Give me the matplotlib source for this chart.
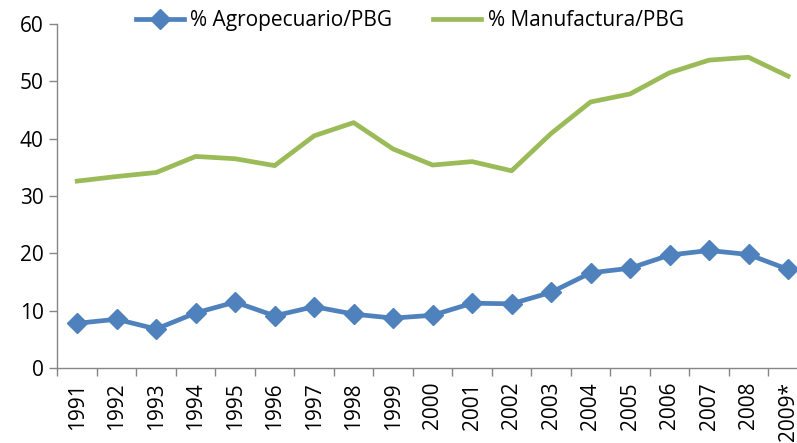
import matplotlib
matplotlib.use('Agg')
import matplotlib.pyplot as plt
import numpy as np

anios = ['1991', '1992', '1993', '1994', '1995', '1996', '1997', '1998', '1999', '2000',
         '2001', '2002', '2003', '2004', '2005', '2006', '2007', '2008', '2009*']
agro = [7.8, 8.5, 6.8, 9.6, 11.5, 9.1, 10.7, 9.4, 8.7, 9.2,
        11.3, 11.2, 13.2, 16.6, 17.4, 19.7, 20.5, 19.8, 17.2]
manuf = [32.6, 33.4, 34.1, 36.9, 36.5, 35.3, 40.5, 42.8, 38.2, 35.4,
         36.0, 34.4, 40.9, 46.4, 47.8, 51.5, 53.7, 54.2, 50.9]

plt.rcParams['font.family'] = ['Open Sans', 'DejaVu Sans']

fig = plt.figure(figsize=(7.97, 4.43), dpi=100)
ax = fig.add_axes([0.0721, 0.1693, 0.9414, 0.7765])

x = np.arange(len(anios))
ax.plot(x, agro, color='#4F81BD', lw=3.4, marker='D', markersize=10.5,
        label='% Agropecuario/PBG', solid_joinstyle='round')
ax.plot(x, manuf, color='#9BBB59', lw=3.4, label='% Manufactura/PBG',
        solid_joinstyle='round')

ax.set_xlim(-0.5, len(anios) - 0.5)
ax.set_ylim(0, 60)
ax.set_yticks(range(0, 61, 10))
ax.set_xticks(x)
ax.set_xticklabels(anios, rotation=90, fontsize=15)
ax.set_xticks(np.arange(-0.5, len(anios), 1), minor=True)
ax.tick_params(axis='x', which='major', length=0, pad=10)
ax.tick_params(axis='x', which='minor', length=6, color='#868686', width=1)
ax.tick_params(axis='y', length=6, color='#868686', width=1, labelsize=15, pad=4)

for s in ['top', 'right']:
    ax.spines[s].set_visible(False)
for s in ['left', 'bottom']:
    ax.spines[s].set_color('#868686')
    ax.spines[s].set_linewidth(1)

ax.legend(loc='center', bbox_to_anchor=(0.514, 0.953), bbox_transform=fig.transFigure,
          ncol=2, frameon=False, fontsize=15, handlelength=2.3, columnspacing=2.0,
          handletextpad=0.3)

fig.savefig('out.png', dpi=100)
